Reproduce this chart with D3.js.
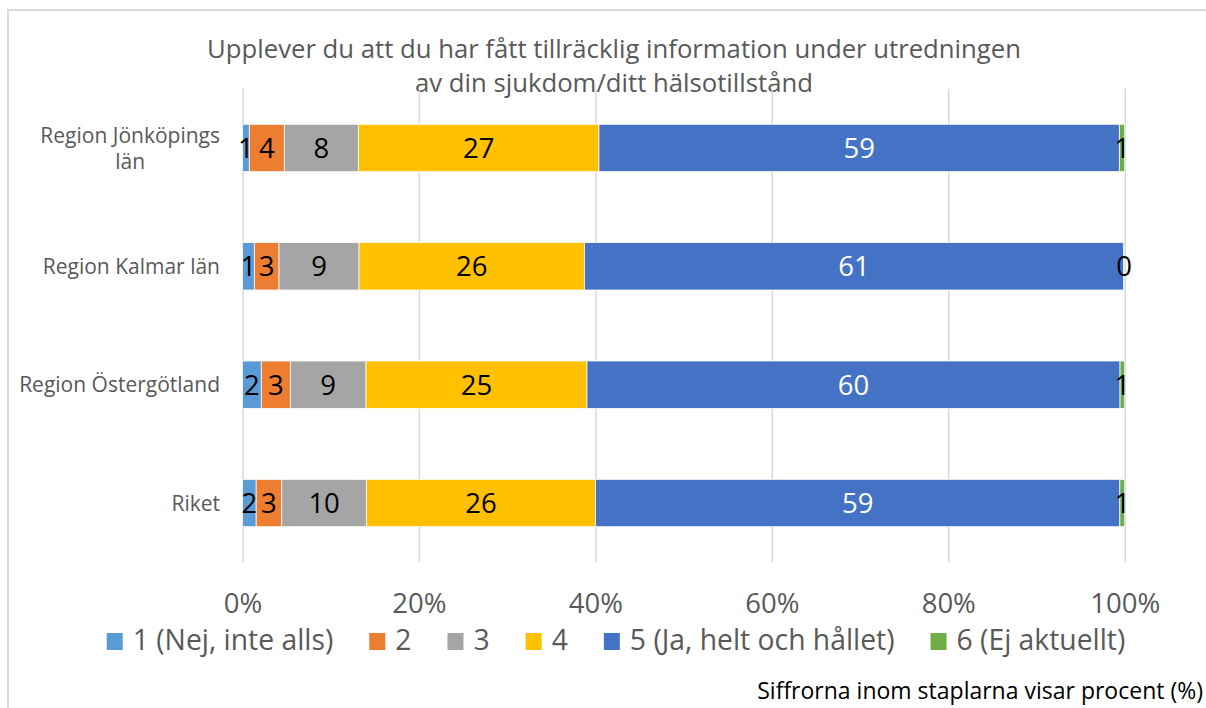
<!DOCTYPE html>
<html>
<head>
<meta charset="utf-8">
<script src="https://cdn.jsdelivr.net/npm/d3@7"></script>
<style>
    body { margin: 0; background: #fff; }
    svg { display: block; font-family: "Open Sans", sans-serif; }
</style>
</head>
<body>
<svg id="chart" width="1206" height="708"></svg>
<script>
// categories (top to bottom) and answer options
const regions = ["Region Jönköpings län", "Region Kalmar län", "Region Östergötland", "Riket"]
const answers = ["1 (Nej, inte alls)", "2", "3", "4", "5 (Ja, helt och hållet)", "6 (Ej aktuellt)"]
const colors = ["#5B9BD5", "#ED7D31", "#A5A5A5", "#FFC000", "#4472C4", "#70AD47"]

// share in percent per answer
const ans1 = [0.77, 1.34, 2.13, 1.55]
const ans2 = [3.97, 2.80, 3.29, 2.90]
const ans3 = [8.39, 9.07, 8.58, 9.60]
const ans4 = [27.28, 25.54, 25.05, 25.96]
const ans5 = [58.98, 61.14, 60.42, 59.44]
const ans6 = [0.61, 0.11, 0.53, 0.55]

const xTicks = [0, 20, 40, 60, 80, 100]
const titleLines = ["Upplever du att du har fått tillräcklig information under utredningen", "av din sjukdom/ditt hälsotillstånd"]
const footnote = "Siffrorna inom staplarna visar procent (%)"

const series = [ans1, ans2, ans3, ans4, ans5, ans6]
const rows = regions.map((r, i) => {
    const row = { region: r }
    answers.forEach((a, k) => { row[a] = series[k][i] })
    return row
})

const svg = d3.select("#chart")
const grey = "#595959"

// outer frame
svg.append("rect")
    .attr("x", 8).attr("y", 10)
    .attr("width", 1220).attr("height", 720)
    .attr("fill", "none")
    .attr("stroke", "#d9d9d9")
    .attr("stroke-width", 2)

// title
svg.append("text")
    .attr("x", 614)
    .attr("y", 58)
    .attr("text-anchor", "middle")
    .attr("fill", grey)
    .style("font-size", "25.7px")
    .selectAll("tspan")
    .data(titleLines).enter()
    .append("tspan")
    .attr("x", 614)
    .attr("dy", (d, i) => i ? 34 : 0)
    .text(d => d)

// scales
const x = d3.scaleLinear().domain([0, 100]).range([242.5, 1124.7])
const y = d3.scaleBand().domain(regions).range([88.8, 562.2]).paddingInner(0.6).paddingOuter(0.3)
const color = d3.scaleOrdinal().domain(answers).range(colors)

// grid
const grid = d3.axisBottom(x).tickValues(xTicks).tickSize(-(y.range()[1] - y.range()[0])).tickFormat("")
svg.append("g")
    .attr("class", "grid")
    .attr("transform", `translate(0, ${y.range()[1]})`)
    .call(grid)
    .call(g => g.select(".domain").remove())
    .call(g => g.selectAll("line").attr("stroke", "#d9d9d9").attr("stroke-width", 1.5))

// x tick labels
const xAxis = d3.axisBottom(x).tickValues(xTicks).tickSize(0).tickPadding(0).tickFormat(d => d + "%")
svg.append("g")
    .attr("class", "x axis")
    .attr("transform", "translate(0, 613)")
    .call(xAxis)
    .call(g => g.select(".domain").remove())
    .call(g => g.selectAll("text")
        .attr("dy", 0)
        .attr("y", 0)
        .attr("fill", grey)
        .style("font-size", "27.5px")
        .style("font-family", "Open Sans"))

// stacked bars
const stack = d3.stack().keys(answers)(rows)
const layers = svg.append("g").selectAll("g")
    .data(stack).enter()
    .append("g")
    .attr("fill", d => color(d.key))

layers.selectAll("rect")
    .data(d => d).enter()
    .append("rect")
    .attr("x", d => x(d[0]))
    .attr("y", d => y(d.data.region))
    .attr("width", d => x(d[1]) - x(d[0]))
    .attr("height", y.bandwidth())
    .attr("stroke", "#fff")
    .attr("stroke-width", 0.75)

// value labels
layers.selectAll("text")
    .data(d => d.map(v => ({ v, key: d.key }))).enter()
    .append("text")
    .attr("x", d => (x(d.v[0]) + x(d.v[1])) / 2)
    .attr("y", d => y(d.v.data.region) + y.bandwidth() / 2)
    .attr("dy", "0.36em")
    .attr("text-anchor", "middle")
    .attr("fill", d => d.key === answers[4] ? "#fff" : "#000")
    .style("font-size", "27.5px")
    .text(d => Math.round(d.v[1] - d.v[0]))

// y labels, wrapped and centered like Excel does
const yLab = svg.append("g").attr("class", "y axis")
regions.forEach(r => {
    const t = yLab.append("text")
        .attr("fill", grey)
        .attr("text-anchor", "middle")
        .style("font-size", "21px")
    const words = r.split(" ")
    const lines = []
    let line = []
    const probe = t.append("tspan")
    words.forEach(w => {
        probe.text([...line, w].join(" "))
        if (probe.node().getComputedTextLength() > 205 && line.length) {
            lines.push(line.join(" "))
            line = [w]
        } else {
            line.push(w)
        }
    })
    lines.push(line.join(" "))
    probe.remove()
    let maxW = 0
    const cy = y(r) + y.bandwidth() / 2
    const lh = 26
    lines.forEach((l, i) => {
        const s = t.append("tspan").text(l)
            .attr("y", cy + (i - (lines.length - 1) / 2) * lh)
            .attr("dy", "0.36em")
        maxW = Math.max(maxW, s.node().getComputedTextLength())
    })
    t.selectAll("tspan").attr("x", 220 - maxW / 2)
})

// legend
const legend = svg.append("g").attr("class", "legend")
let lx = 0
answers.forEach(a => {
    const item = legend.append("g").attr("transform", `translate(${lx}, 0)`)
    item.append("rect")
        .attr("x", 0).attr("y", -17)
        .attr("width", 16).attr("height", 17)
        .attr("fill", color(a))
    const t = item.append("text")
        .attr("x", 26)
        .attr("y", 0)
        .attr("fill", grey)
        .style("font-size", "28.3px")
        .text(a)
    lx += 26 + t.node().getComputedTextLength() + 36
})
lx -= 36
legend.attr("transform", `translate(${616 - lx / 2}, 650)`)

// footnote
svg.append("text")
    .attr("x", 1203)
    .attr("y", 699)
    .attr("text-anchor", "end")
    .attr("fill", "#000")
    .style("font-size", "23px")
    .text(footnote)
</script>
</body>
</html>
